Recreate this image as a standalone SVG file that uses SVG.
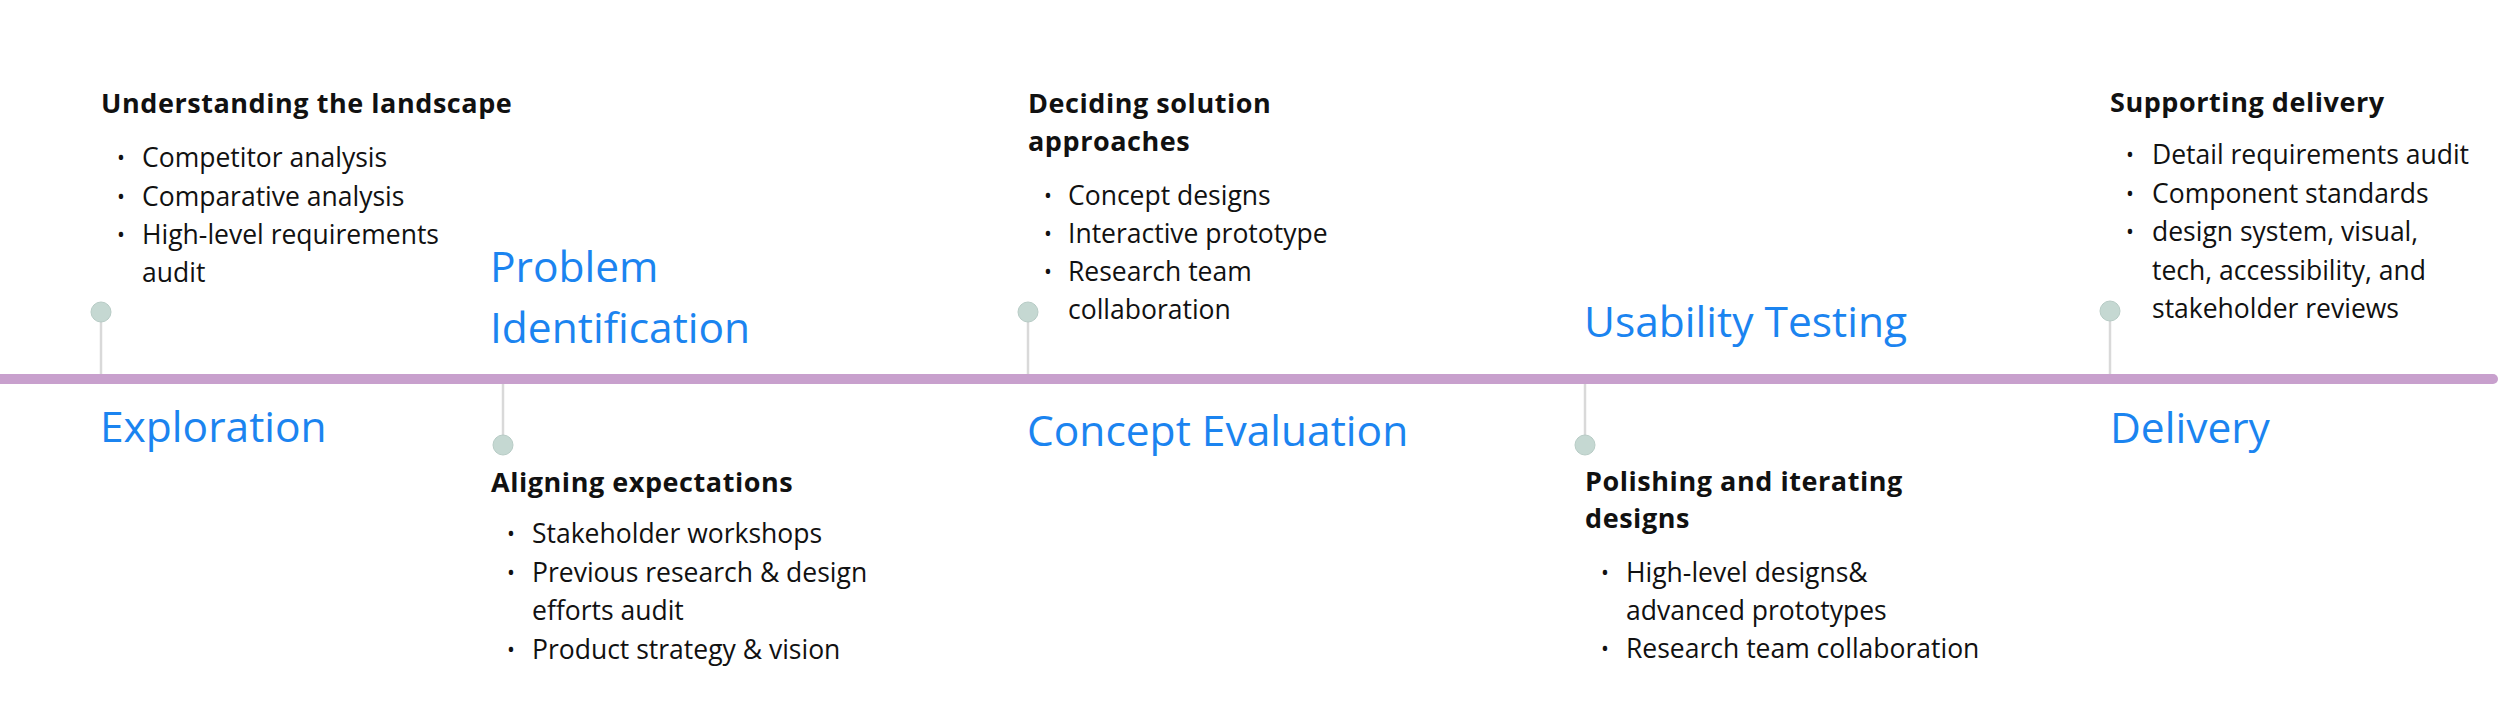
<svg xmlns="http://www.w3.org/2000/svg" width="2500" height="717" viewBox="0 0 2500 717">
<style>
.phase{font-family:"Open Sans","Liberation Sans",sans-serif;font-size:42.5px;fill:#1B84F0}
.head{font-family:"Open Sans","Liberation Sans",sans-serif;font-weight:700;font-size:27px;letter-spacing:0.55px;fill:#111}
.body{font-family:"Open Sans","Liberation Sans",sans-serif;font-size:26.5px;fill:#111}
.bul{font-family:"Open Sans","Liberation Sans",sans-serif;font-size:21px;fill:#111}
.dot{fill:#C5D8D2;stroke:#B8CCC6;stroke-width:1}
.stem{stroke:#D9D9D9;stroke-width:2.5}
</style>
<rect width="2500" height="717" fill="#fff"/>
<g id="timeline">
<line x1="-10" y1="379" x2="2493" y2="379" stroke="#C8A0CD" stroke-width="10" stroke-linecap="round"/>
</g>
<g id="connectors">
<line class="stem" x1="101" y1="312" x2="101" y2="374"/>
<line class="stem" x1="503" y1="384" x2="503" y2="445"/>
<line class="stem" x1="1028" y1="312" x2="1028" y2="374"/>
<line class="stem" x1="1585" y1="384" x2="1585" y2="445"/>
<line class="stem" x1="2110" y1="311" x2="2110" y2="374"/>
</g>
<g id="exploration">
<circle class="dot" cx="101" cy="312" r="10"/>
<text class="head" x="101" y="113">Understanding the landscape</text>
<text class="bul" x="117" y="165">•</text><text class="body" x="142" y="167">Competitor analysis</text>
<text class="bul" x="117" y="203.5">•</text><text class="body" x="142" y="205.5">Comparative analysis</text>
<text class="bul" x="117" y="242">•</text><text class="body" x="142" y="244">High-level requirements</text>
<text class="body" x="142" y="282">audit</text>
<text class="phase" x="100" y="442">Exploration</text>
</g>
<g id="problem-identification">
<circle class="dot" cx="503" cy="445" r="10"/>
<text class="phase" x="490" y="282">Problem</text>
<text class="phase" x="490" y="343">Identification</text>
<text class="head" x="491" y="492">Aligning expectations</text>
<text class="bul" x="507" y="541">•</text><text class="body" x="532" y="543">Stakeholder workshops</text>
<text class="bul" x="507" y="580">•</text><text class="body" x="532" y="582">Previous research &amp; design</text>
<text class="body" x="532" y="620">efforts audit</text>
<text class="bul" x="507" y="657">•</text><text class="body" x="532" y="659">Product strategy &amp; vision</text>
</g>
<g id="concept-evaluation">
<circle class="dot" cx="1028" cy="312" r="10"/>
<text class="head" x="1028" y="113">Deciding solution</text>
<text class="head" x="1028" y="151">approaches</text>
<text class="bul" x="1044" y="203">•</text><text class="body" x="1068" y="205">Concept designs</text>
<text class="bul" x="1044" y="241">•</text><text class="body" x="1068" y="243">Interactive prototype</text>
<text class="bul" x="1044" y="279">•</text><text class="body" x="1068" y="281">Research team</text>
<text class="body" x="1068" y="319">collaboration</text>
<text class="phase" x="1027" y="446">Concept Evaluation</text>
</g>
<g id="usability-testing">
<circle class="dot" cx="1585" cy="445" r="10"/>
<text class="phase" x="1584" y="337">Usability Testing</text>
<text class="head" x="1585" y="491">Polishing and iterating</text>
<text class="head" x="1585" y="528">designs</text>
<text class="bul" x="1601" y="580">•</text><text class="body" x="1626" y="582">High-level designs&amp;</text>
<text class="body" x="1626" y="620">advanced prototypes</text>
<text class="bul" x="1601" y="656">•</text><text class="body" x="1626" y="658">Research team collaboration</text>
</g>
<g id="delivery">
<circle class="dot" cx="2110" cy="311" r="10"/>
<text class="head" x="2110" y="112">Supporting delivery</text>
<text class="bul" x="2126" y="162">•</text><text class="body" x="2152" y="164">Detail requirements audit</text>
<text class="bul" x="2126" y="201">•</text><text class="body" x="2152" y="203">Component standards</text>
<text class="bul" x="2126" y="239">•</text><text class="body" x="2152" y="241">design system, visual,</text>
<text class="body" x="2152" y="280">tech, accessibility, and</text>
<text class="body" x="2152" y="318">stakeholder reviews</text>
<text class="phase" x="2110" y="443">Delivery</text>
</g>
</svg>
